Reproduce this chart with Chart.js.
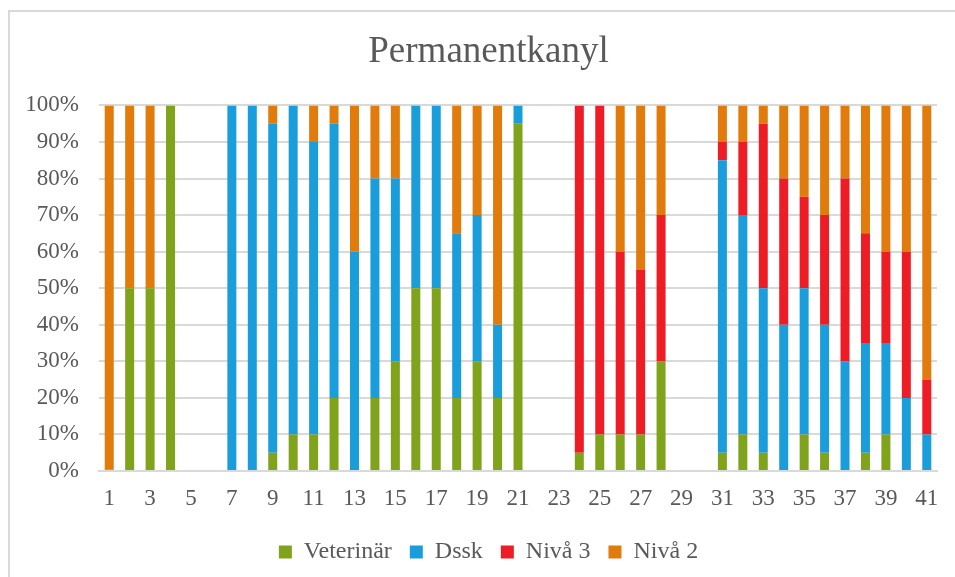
<!DOCTYPE html>
<html>
<head>
<meta charset="utf-8">
<script src="https://cdn.jsdelivr.net/npm/chart.js@4"></script>
<style>
  html, body { margin: 0; padding: 0; background: #fff; overflow: hidden; }
  #wrap { position: relative; width: 955px; height: 577px; overflow: hidden; }
  #frame { position: absolute; left: 8px; top: 10px; width: 1000px; height: 600px;
           border-left: 2px solid #d9d9d9; border-top: 2px solid #d9d9d9; }
  canvas { position: absolute; left: 0; top: 0; }
</style>
</head>
<body>
<div id="wrap">
  <div id="frame"></div>
  <canvas id="myChart" width="977" height="577"></canvas>
</div>
<script>
const labels = [];
for (let i = 1; i <= 41; i++) labels.push(String(i));

const veterinar = [0.5, 50, 50, 100, 0, 0, 0, 0, 5, 10, 10, 20, 0, 20, 30, 50, 50, 20, 30, 20, 95,
                   0, 0, 5, 10, 10, 10, 30, 0, 0, 5, 10, 5, 0, 10, 5, 0, 5, 10, 0, 0];
const dssk = [0, 0, 0, 0, 0, 0, 100, 100, 90, 90, 80, 75, 60, 60, 50, 50, 50, 45, 40, 20, 5,
              0, 0, 0, 0, 0, 0, 0, 0, 0, 80, 60, 45, 40, 40, 35, 30, 30, 25, 20, 10];
const niva3 = [0, 0, 0, 0, 0, 0, 0, 0, 0, 0, 0, 0, 0, 0, 0, 0, 0, 0, 0, 0, 0,
               0, 0, 95, 90, 50, 45, 40, 0, 0, 5, 20, 45, 40, 25, 30, 50, 30, 25, 40, 15];
const niva2 = [99.5, 50, 50, 0, 0, 0, 0, 0, 5, 0, 10, 5, 40, 20, 20, 0, 0, 35, 30, 60, 0,
               0, 0, 0, 0, 40, 45, 30, 0, 0, 10, 10, 5, 20, 25, 30, 20, 35, 40, 40, 75];

const textColor = '#595959';
const gridColor = '#d9d9d9';
const serif = "'Liberation Serif', 'Times New Roman', serif";

// canvas is 977 wide (clipped to 955) so title and legend centre like the original;
// an empty right axis keeps the plot area ending at x=937
const ctx = document.getElementById('myChart').getContext('2d');
new Chart(ctx, {
    type: 'bar',
    data: {
        labels: labels,
        datasets: [
            { label: 'Veterinär', data: veterinar, backgroundColor: '#7fa31a' },
            { label: 'Dssk', data: dssk, backgroundColor: '#1a9edb' },
            { label: 'Nivå 3', data: niva3, backgroundColor: '#ee1c25' },
            { label: 'Nivå 2', data: niva2, backgroundColor: '#e07b0c' }
        ]
    },
    options: {
        responsive: false,
        animation: false,
        barPercentage: 0.44,
        categoryPercentage: 1,
        layout: { padding: { left: 0, right: 0, top: 0, bottom: 3 } },
        plugins: {
            title: {
                display: true,
                text: 'Permanentkanyl',
                color: textColor,
                font: { family: serif, size: 37, weight: 'normal' },
                padding: { top: 30, bottom: 31 }
            },
            legend: {
                position: 'bottom',
                labels: {
                    color: textColor,
                    font: { family: serif, size: 24 },
                    boxWidth: 13,
                    boxHeight: 13,
                    padding: 18
                }
            },
            tooltip: { enabled: false }
        },
        scales: {
            x: {
                stacked: true,
                afterFit: function(scale) { scale.height = 51; },
                grid: { display: false },
                border: { display: true, color: gridColor, width: 2 },
                ticks: {
                    color: textColor,
                    font: { family: serif, size: 23 },
                    autoSkip: false,
                    maxRotation: 0,
                    padding: 6,
                    callback: function(value, index) {
                        return index % 2 === 0 ? labels[index] : '';
                    }
                }
            },
            y: {
                stacked: true,
                min: 0,
                max: 100,
                afterFit: function(scale) { scale.width = 99; },
                grid: { color: gridColor, lineWidth: 2, drawTicks: false },
                border: { display: false },
                ticks: {
                    stepSize: 10,
                    color: textColor,
                    font: { family: serif, size: 23 },
                    padding: 20,
                    callback: function(value) { return value + '%'; }
                }
            },
            yRight: {
                position: 'right',
                afterFit: function(scale) { scale.width = 40; },
                grid: { display: false },
                border: { display: false },
                ticks: { display: false }
            }
        }
    }
});
</script>
</body>
</html>
